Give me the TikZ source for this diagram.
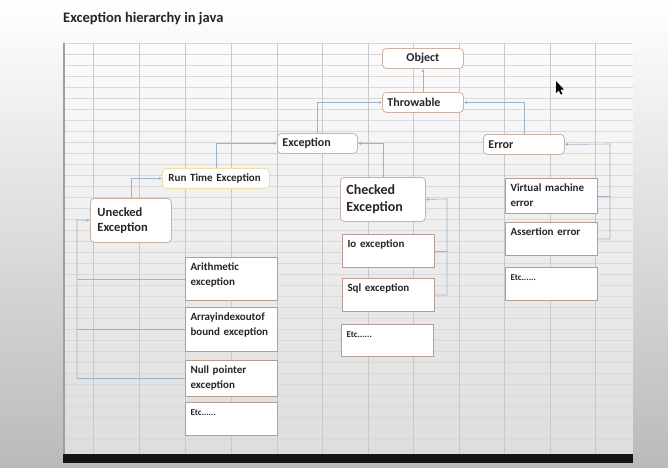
\documentclass[tikz,border=0pt]{standalone}
\usepackage{fontspec}
\setmainfont{Carlito}
\usepackage{tikz}
\usetikzlibrary{arrows.meta}

\definecolor{boxline}{HTML}{C9B3A6}
\definecolor{leafline}{HTML}{B89C92}
\definecolor{rteline}{HTML}{EDE0A4}
\definecolor{connline}{HTML}{9DB2CB}
\definecolor{gridh}{HTML}{D9D9D9}
\definecolor{gridv}{HTML}{C9C9C9}
\definecolor{ink}{HTML}{262626}

\begin{document}
\begin{tikzpicture}[x=1pt, y=-1pt,
    topbox/.style={draw=boxline, line width=0.8pt, rounded corners=4pt, fill=white,
        anchor=north west, inner xsep=5pt, align=left, text=ink,
        font=\fontsize{12}{14}\selectfont\bfseries},
    leaf/.style={draw=leafline, line width=1pt, fill=white, anchor=north west,
        text width=82pt, inner xsep=5pt, inner ysep=4pt, text height=9pt,
        align=left, text=ink, font=\fontsize{11}{15}\selectfont\bfseries},
    conn/.style={draw=connline, line width=0.6pt, -{Latex[length=3pt,width=3pt]}},
    branch/.style={draw=connline, line width=0.6pt}
  ]
    \useasboundingbox (0,0) rectangle (668,467);
    % screen background
    \shade[top color=white, middle color=white, bottom color=black!27] (0,0) rectangle (668,467);
    \fill[white, opacity=0.5] (63,43) rectangle (633,454);
    % sheet grid
    \foreach \y in {43,54,...,452}
        \draw[gridh, line width=0.8pt] (63,\y) -- (633,\y);
    \foreach \x in {93,139,185,231,277,322,368,413,459,504,550,595}
        \draw[gridv, line width=0.7pt] (\x,43) -- (\x,454);
    \draw[gray!75, line width=2pt] (63.5,43) -- (63.5,454);
    \fill[black!92] (63,454) rectangle (633,463);

    \node[anchor=base west, inner sep=0pt, text=ink, font=\fontsize{14.5}{16}\selectfont\bfseries] (title) at (63,22) {Exception hierarchy in java};

    % main classes
    \node[topbox, text width=71pt, align=center, minimum height=20pt] (object) at (382,48) {Object};
    \node[topbox, text width=71pt, minimum height=20pt] (throwable) at (382,92) {Throwable};
    \node[topbox, text width=70pt, minimum height=20pt] (exception) at (277,133) {Exception};
    \node[topbox, text width=71pt, minimum height=20pt] (error) at (483,134) {Error};
    \node[topbox, draw=rteline, text width=95pt, inner xsep=6pt, minimum height=20pt,
        font=\fontsize{11}{13}\selectfont\bfseries] (runtime) at (162,168) {Run Time Exception};
    \node[topbox, text width=67pt, inner xsep=7pt, minimum height=44pt,
        font=\fontsize{12.5}{15}\selectfont\bfseries] (unchecked) at (90,198) {Unecked\\Exception};
    \node[topbox, text width=73pt, inner xsep=6pt, minimum height=44pt,
        font=\fontsize{14}{17}\selectfont\bfseries] (checked) at (340,177) {Checked\\Exception};

    % leaves
    \node[leaf, text depth=18pt] (vmerror) at (505,178) {Virtual machine\\error};
    \node[leaf, text depth=16pt] (assertion) at (505,222) {Assertion error};
    \node[leaf, text depth=16pt, font=\fontsize{9}{11}\selectfont\bfseries] (etcerror) at (505,267) {Etc......};
    \node[leaf, text depth=16pt] (ioexc) at (342,234) {Io exception};
    \node[leaf, text depth=16pt] (sqlexc) at (342,278) {Sql exception};
    \node[leaf, text depth=15pt, font=\fontsize{9}{11}\selectfont\bfseries] (etcchecked) at (341,324) {Etc......};
    \node[leaf, text depth=26pt] (arith) at (185,257) {Arithmetic\\exception};
    \node[leaf, text depth=27pt] (arrayidx) at (185,307) {Arrayindexoutof\\bound exception};
    \node[leaf, text depth=19pt] (nullptr) at (185,360) {Null pointer\\exception};
    \node[leaf, text depth=16pt, font=\fontsize{9}{11}\selectfont\bfseries] (etcunchecked) at (185,402) {Etc......};

    % hierarchy
    \draw[conn] (throwable) -- (object);
    \draw[conn] (exception.north) |- (throwable);
    \draw[conn] (error.north) |- (throwable);
    \draw[conn] (runtime.north) |- (exception);
    \draw[conn] (checked.north) |- (exception);
    \draw[conn] (unchecked.north) |- (runtime);

    \coordinate (ubus) at (77,220);
    \draw[conn] (nullptr.west) -| (ubus) -- (unchecked.west);
    \draw[branch] (arith.west) -- (arith.west -| ubus);
    \draw[branch] (arrayidx.west) -- (arrayidx.west -| ubus);

    \coordinate (cbus) at (447,199);
    \draw[conn] (sqlexc.east) -| (cbus) -- (checked.east);
    \draw[branch] (ioexc.east) -- (ioexc.east -| cbus);

    \coordinate (ebus) at (610,144);
    \draw[conn] (assertion.east) -| (ebus) -- (error.east);
    \draw[branch] (vmerror.east) -- (vmerror.east -| ebus);

    % mouse pointer
    \fill[black] (556,81) -- (556,93) -- (558.8,90.3) -- (560.8,94.6) -- (562.4,93.8) -- (560.4,89.6) -- (564,89.6) -- cycle;
\end{tikzpicture}
\end{document}
